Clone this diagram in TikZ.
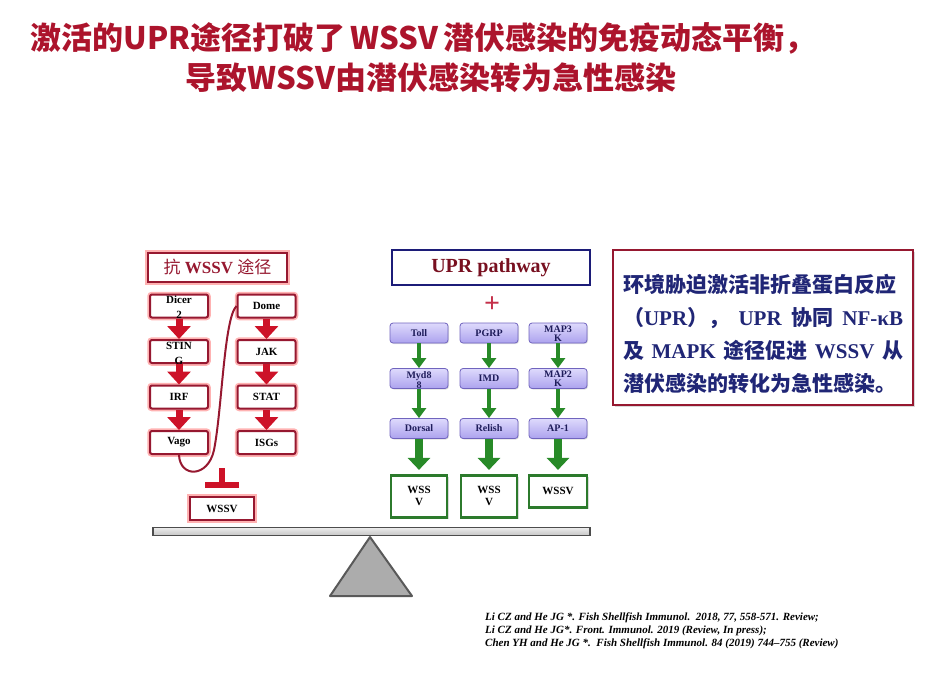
\documentclass[tikz,border=0pt]{standalone}
\usepackage{fontspec}
\setmainfont{Liberation Serif}
\newfontfamily\cjk{Noto Sans CJK SC}
\usetikzlibrary{arrows.meta,positioning,shadows}

\definecolor{titlered}{RGB}{172,20,44}
\definecolor{wine}{RGB}{150,24,48}
\definecolor{redarrow}{RGB}{205,18,40}
\definecolor{navy}{RGB}{28,28,120}
\definecolor{noteblue}{RGB}{32,38,118}
\definecolor{lavtop}{RGB}{222,218,252}
\definecolor{lavbot}{RGB}{172,162,238}
\definecolor{lavline}{RGB}{112,100,190}
\definecolor{lavtext}{RGB}{30,28,90}
\definecolor{leaf}{RGB}{44,122,44}
\definecolor{greenarrow}{RGB}{40,138,40}
\definecolor{uprtext}{RGB}{120,16,32}
\definecolor{plusred}{RGB}{196,48,74}

% first line on the box, second line spilling out below
\newcommand{\twoline}[4]{\smash{\raisebox{#1}{\begin{tabular}[t]{@{}c@{}}#3\\[#2]#4\end{tabular}}}}

\begin{document}
\begin{tikzpicture}[x=1pt,y=-1pt,node distance=45.5pt,auto]
  \tikzstyle{titletext}=[text=titlered,font=\cjk\bfseries\fontsize{31}{31}\selectfont]
  \tikzstyle{redhead}=[rectangle,draw=wine,line width=2.2pt,fill=white,minimum width=139pt,minimum height=29pt,text=wine,font=\fontsize{17}{17}\selectfont,preaction={draw=red!30,line width=5.5pt}]
  \tikzstyle{redbox}=[rectangle,rounded corners=2pt,draw=wine,line width=2pt,fill=white,minimum width=58pt,minimum height=23pt,inner sep=0pt,font=\fontsize{11}{13}\selectfont\bfseries,preaction={draw=red!30,line width=5.5pt}]
  \tikzstyle{redpre}=[draw=redarrow,line width=7pt,{Triangle[width=23pt,length=13pt]}-]
  \tikzstyle{purplebox}=[rectangle,rounded corners=3pt,draw=lavline,line width=.8pt,top color=lavtop,bottom color=lavbot,minimum width=58pt,minimum height=20pt,inner sep=0pt,text=lavtext,font=\fontsize{10}{12}\selectfont\bfseries,drop shadow={shadow xshift=1pt,shadow yshift=-1pt,opacity=.25}]
  \tikzstyle{greenpre}=[draw=greenarrow,line width=4pt,{Triangle[width=14pt,length=10pt]}-]
  \tikzstyle{greenbox}=[rectangle,draw=leaf,line width=2.8pt,fill=white,minimum width=56pt,minimum height=32pt,align=center,font=\fontsize{11}{12}\selectfont\bfseries,drop shadow={shadow xshift=1.5pt,shadow yshift=-1.5pt,opacity=.3}]
  \tikzstyle{greenfat}=[draw=greenarrow,line width=8pt,-{Triangle[width=22pt,length=12pt]},shorten >=4pt]

  \useasboundingbox (0,0) rectangle (941,673);

  % title
  \node[titletext] (title1) at (423,38) {激活的UPR途径打破了\hspace{-2pt} WSSV\hspace{-2pt} 潜伏感染的免疫动态平衡，};
  \node[titletext] (title2) at (431,78) {导致WSSV由潜伏感染转为急性感染};

  % anti-WSSV side
  \node[redhead] (antihead) at (217.5,267.5) {{\cjk 抗} \textbf{WSSV} {\cjk 途径}};
  \node[redbox] (dicer) at (179,306) {\twoline{2.5pt}{2pt}{Dicer}{2}};
  \node[redbox] (sting) [below of=dicer] {\twoline{2.5pt}{2pt}{STIN}{G}}
      edge[redpre] (dicer);
  \node[redbox] (irf)   [below of=sting] {IRF}
      edge[redpre] (sting);
  \node[redbox] (vago)  [below of=irf] {Vago}
      edge[redpre] (irf);
  \node[redbox] (dome) at (266.5,306) {Dome};
  \node[redbox] (jak)  [below of=dome] {JAK}
      edge[redpre] (dome);
  \node[redbox] (stat) [below of=jak] {STAT}
      edge[redpre] (jak);
  \node[redbox] (isgs) [below of=stat] {ISGs}
      edge[redpre] (stat);
  \draw[wine,line width=2pt] (vago.south) .. controls (180,478) and (208,478) .. (214,450)
      .. controls (222,410) and (224,318) .. (dome.west);

  \node[redbox,draw=wine,line width=2.2pt,rounded corners=0pt,minimum width=64pt] (wssvl) at (222,508.5) {WSSV};
  \coordinate (inhib) at (222,468);
  \draw[redarrow,line width=6pt,-{Bar[width=34pt]}] (inhib) -- ([yshift=8pt]wssvl.north);

  % balance
  \draw[top color=gray!15,bottom color=gray!45,draw=black!70,line width=1.3pt] (153,527.5) rectangle (590,535.5);
  \filldraw[fill=gray!65,draw=gray!70!black,line width=2pt,line join=round] (370,537) -- (412,596) -- (330,596) -- cycle;

  % UPR side
  \node[rectangle,draw=navy,line width=2.5pt,minimum width=198pt,minimum height=35pt,text=uprtext,font=\fontsize{20}{20}\selectfont\bfseries] (upr) at (491,267.5) {UPR pathway};
  \node[text=plusred,font=\fontsize{28}{28}\selectfont\bfseries] (plus) at (492,305) {+};

  \node[purplebox] (toll) at (419,333) {Toll};
  \node[purplebox] (pgrp) [node distance=70pt,right of=toll] {PGRP};
  \node[purplebox] (map3k) [node distance=69pt,right of=pgrp] {\twoline{1pt}{-3pt}{MAP3}{K}};
  \node[purplebox] (myd88) [below of=toll] {\twoline{0pt}{-2.5pt}{Myd8}{8}}
      edge[greenpre] (toll);
  \node[purplebox] (imd)   [below of=pgrp] {IMD}
      edge[greenpre] (pgrp);
  \node[purplebox] (map2k) [below of=map3k] {\twoline{1pt}{-3pt}{MAP2}{K}}
      edge[greenpre] (map3k);
  \node[purplebox] (dorsal) [node distance=50pt,below of=myd88] {Dorsal}
      edge[greenpre] (myd88);
  \node[purplebox] (relish) [node distance=50pt,below of=imd] {Relish}
      edge[greenpre] (imd);
  \node[purplebox] (ap1)    [node distance=50pt,below of=map2k] {AP-1}
      edge[greenpre] (map2k);

  \node[greenbox,minimum height=42pt] (wssv1) [below=35pt of dorsal] {WSS\\V};
  \node[greenbox,minimum height=42pt] (wssv2) [below=35pt of relish] {WSS\\V};
  \node[greenbox,minimum width=58pt] (wssv3) [below=35pt of ap1] {WSSV};
  \draw[greenfat] (dorsal) -- (wssv1);
  \draw[greenfat] (relish) -- (wssv2);
  \draw[greenfat] (ap1) -- (wssv3);

  % note
  \node[rectangle,draw=wine,line width=2.6pt,fill=white,minimum width=300pt,minimum height=155pt,
        drop shadow={shadow xshift=2pt,shadow yshift=-2pt,opacity=.3}] (note) at (763,327.5) {};
  \node[text=noteblue,font=\fontsize{21}{33}\selectfont\bfseries,align=left] (notetext) at ([yshift=-6pt]note.center)
    {\hbox to 280pt{\cjk 环境胁迫激活非折叠蛋白反应}\\
     \hbox to 280pt{{\cjk （}UPR{\cjk ），}\hfill UPR\hfill{\cjk 协同}\hfill NF-κB}\\
     \hbox to 280pt{{\cjk 及}\hfill MAPK\hfill{\cjk 途径促进}\hfill WSSV\hfill{\cjk 从}}\\
     \hbox to 280pt{\cjk 潜伏感染的转化为急性感染。}};

  % references
  \node[anchor=north west,align=left,font=\fontsize{11}{13}\selectfont\bfseries\itshape,inner sep=0pt] (refs) at (485,613)
    {Li CZ and He JG *. Fish Shellfish Immunol.\ \ 2018, 77, 558-571. Review;\\
     Li CZ and He JG*. Front. Immunol. 2019 (Review, In press);\\
     Chen YH and He JG *.\ \ Fish Shellfish Immunol. 84 (2019) 744--755 (Review)};
\end{tikzpicture}
\end{document}
